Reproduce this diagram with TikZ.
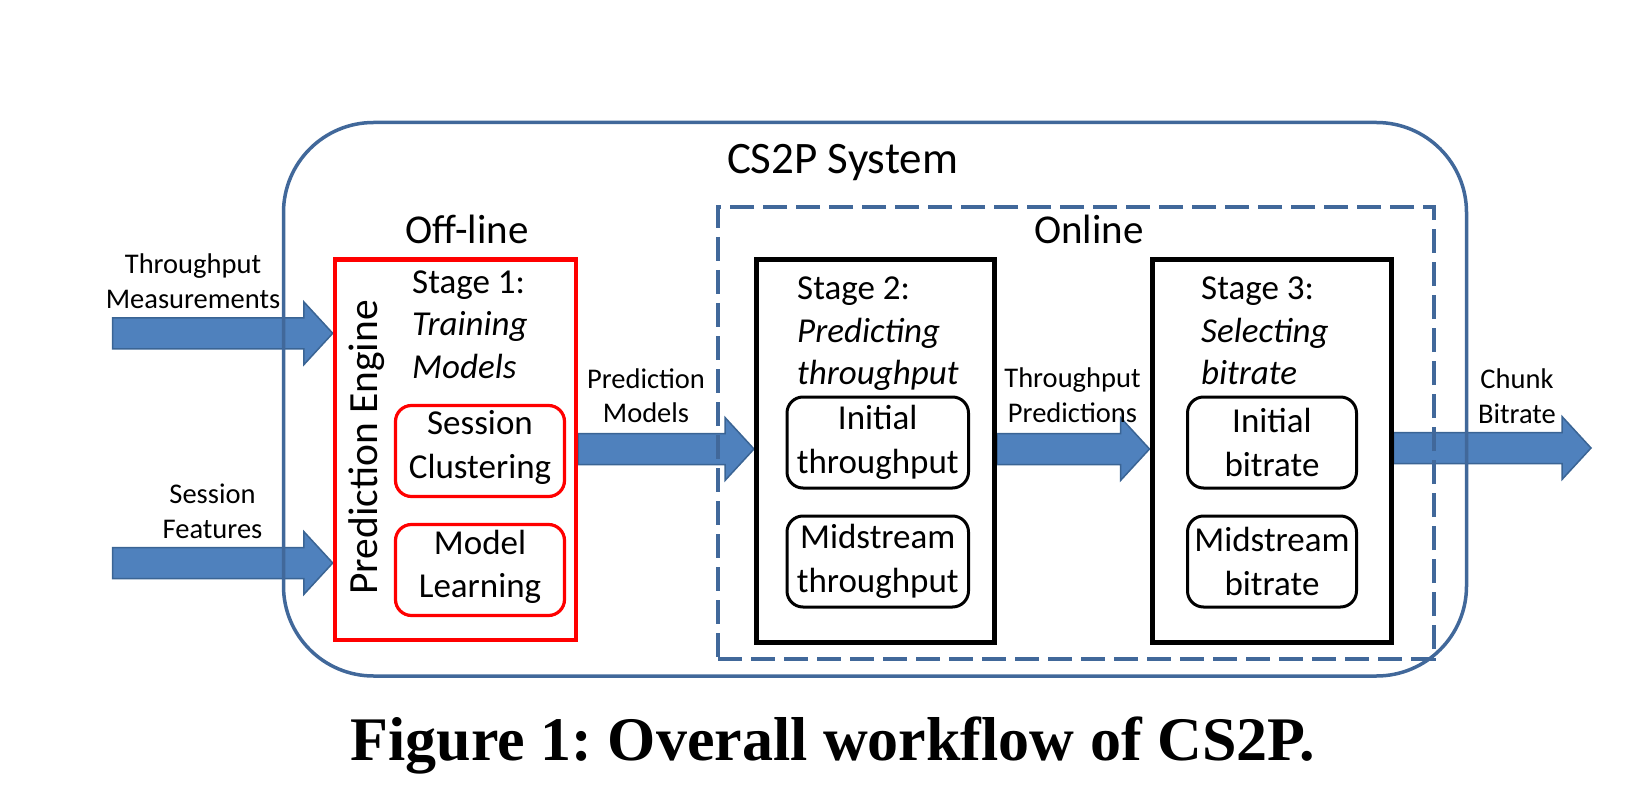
\documentclass[tikz,border=0pt]{standalone}
\usepackage{fontspec}
\setmainfont{Carlito}
\newfontfamily\capfont{Liberation Serif}
\usetikzlibrary{calc}
\definecolor{afill}{HTML}{4F81BD}
\definecolor{aline}{HTML}{3A6494}
\definecolor{oline}{HTML}{41689A}
\newcommand\blockarrow[2]{%
  \filldraw[blockarr] let \p1=#1, \p2=#2 in
    (\x1,\y1+15.5pt) -- (\x2-29pt,\y1+15.5pt) -- (\x2-29pt,\y1+31.5pt) --
    (\x2,\y1) -- (\x2-29pt,\y1-31.5pt) -- (\x2-29pt,\y1-15.5pt) --
    (\x1,\y1-15.5pt) -- cycle;}
\begin{document}
\begin{tikzpicture}[x=1pt,y=-1pt,
  blockarr/.style={fill=afill,draw=aline,line width=1.5pt,line join=miter},
  sysbox/.style={draw=oline,line width=3.5pt,rounded corners=90pt,inner sep=0pt},
  onbox/.style={draw=oline,line width=3.5pt,dash pattern=on 24pt off 9pt,inner sep=0pt},
  pebox/.style={draw=red,line width=4.5pt,fill=white,inner sep=0pt},
  stagebox/.style={draw=black,line width=5pt,fill=white,inner sep=0pt},
  redsub/.style={draw=red,line width=3.2pt,rounded corners=16pt,fill=white,inner sep=0pt,
    align=center,text depth=13pt,font=\fontsize{35}{43.3}\selectfont},
  blksub/.style={draw=black,line width=3pt,rounded corners=16pt,fill=white,inner sep=0pt,
    align=center,font=\fontsize{35}{43.3}\selectfont},
  lbl/.style={align=center,inner sep=0pt,font=\fontsize{28.5}{34.5}\selectfont},
  stagetxt/.style={align=left,inner sep=0pt,anchor=base west,font=\fontsize{35}{42.5}\selectfont},
  head/.style={inner sep=0pt,anchor=base,font=\fontsize{41}{48}\selectfont}
]
\useasboundingbox (0,0) rectangle (1638,810);

% helper coordinates
\coordinate (mid) at (0,449);
\coordinate (tmsrc) at (112.7,333.3);
\coordinate (sfsrc) at (112.7,563);
\coordinate (cbdst) at (1591,448);

% containers (geometry only, drawn later)
\path
  node[minimum width=241pt,minimum height=380.5pt,inner sep=0pt,outer sep=2.25pt] (pe) at (455.5,449.75) {}
  node[minimum width=238pt,minimum height=383pt,inner sep=0pt,outer sep=2.5pt] (s2) at (875.5,451) {}
  node[minimum width=239pt,minimum height=383pt,inner sep=0pt,outer sep=2.5pt] (s3) at (1271.5,451) {};

% block arrows (under the frames)
\blockarrow{(tmsrc)}{(pe.west |- tmsrc)}
\blockarrow{(sfsrc)}{(pe.west |- sfsrc)}
\blockarrow{(pe.east |- mid)}{(s2.west |- mid)}
\blockarrow{(s2.east |- mid)}{(s3.west |- mid)}
\blockarrow{(s3.east |- cbdst)}{(cbdst)}

% frames
\node[sysbox,minimum width=1183pt,minimum height=553.5pt] (sys) at (875,399.25) {};
\node[onbox,minimum width=716pt,minimum height=452pt] (online) at (1076,433) {};
\node[pebox,minimum width=241pt,minimum height=380.5pt] (peb) at (pe) {};
\node[stagebox,minimum width=238pt,minimum height=383pt] (s2b) at (s2) {};
\node[stagebox,minimum width=239pt,minimum height=383pt] (s3b) at (s3) {};

% headings
\node[head,font=\fontsize{45}{52}\selectfont] (systitle) at (842.5,174) {CS2P System};
\node[head] (offtitle) at (467,243.3) {Off-line};
\node[head] (ontitle) at (1089,243.3) {Online};

% stage texts (anchor = baseline of last line)
\node[stagetxt] (st1) at (412,378) {Stage 1:\\\textit{Training}\\\textit{Models}};
\node[stagetxt] (st2) at (797,384.5) {Stage 2:\\\textit{Predicting}\\\textit{throughput}};
\node[stagetxt] (st3) at (1201,384.5) {Stage 3:\\\textit{Selecting}\\\textit{bitrate}};
\node[rotate=90,anchor=base,inner sep=0pt,font=\fontsize{41.5}{48}\selectfont] (pename) at (377,447.5) {Prediction Engine};

% sub boxes
\node[redsub,minimum width=169pt,minimum height=91pt] (sc) at (480,451) {Session\\Clustering};
\node[redsub,minimum width=169pt,minimum height=91pt] (ml) at (480,570) {Model\\Learning};
\node[blksub,minimum width=181.5pt,minimum height=91pt] (it) at (877.75,442.5) {Initial\\throughput};
\node[blksub,minimum width=181.5pt,minimum height=91pt] (mt) at (877.75,561.5) {Midstream\\throughput};
\node[blksub,minimum width=169pt,minimum height=91pt] (ib) at (1272,442.5) {Initial\\bitrate};
\node[blksub,minimum width=169pt,minimum height=91pt] (mb) at (1272,561.5) {Midstream\\bitrate};

% arrow labels (anchor = baseline of last line)
\node[lbl,anchor=base] (ltm) at (193,308.3) {Throughput\\Measurements};
\node[lbl,anchor=base] (lsf) at (212.5,538.3) {Session\\Features};
\node[lbl,anchor=base] (lpm) at (646,422.7) {Prediction\\Models};
\node[lbl,anchor=base] (ltp) at (1072.5,422.3) {Throughput\\Predictions};
\node[lbl,anchor=base] (lcb) at (1517,423.3) {Chunk\\Bitrate};

% caption
\node[anchor=base,inner sep=0pt] (cap) at (833,760)
  {\capfont\bfseries\frenchspacing\fontsize{62}{70}\selectfont Figure 1: Overall workflow of CS2P.};
\end{tikzpicture}
\end{document}
